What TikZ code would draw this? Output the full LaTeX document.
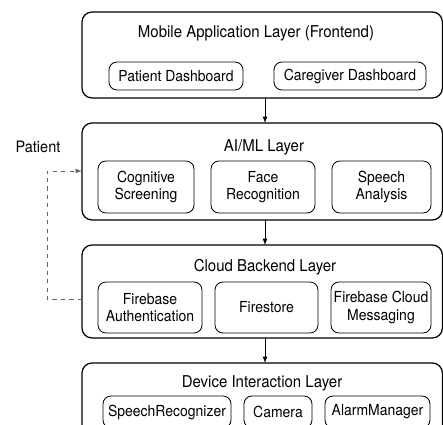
\documentclass[tikz,border=0pt]{standalone}
\usepackage{fontspec}
\setmainfont[FakeStretch=0.92]{TeX Gyre Heros}
\tikzset{
	layer/.style={draw, rounded corners=0.25cm, line width=0.9pt, inner sep=0pt, outer sep=0pt},
	part/.style={draw, rounded corners=0.2cm, line width=0.6pt, inner sep=0pt, outer sep=0pt, align=center, font=\fontsize{10.8}{12.2}\selectfont},
	title/.style={font=\fontsize{11.6}{13}\selectfont}
}
\begin{document}
\begin{tikzpicture}
						\useasboundingbox (0,0) rectangle (11.075,10.625);
						\path (6.555,9.25) node[layer, minimum width=9.01cm, minimum height=2.15cm] (mobile) {};
						\path (6.555,6.3375) node[layer, minimum width=9.01cm, minimum height=2.425cm] (aiml) {};
						\path (6.555,3.3375) node[layer, minimum width=9.01cm, minimum height=2.325cm] (cloud) {};
						\path (6.555,0.525) node[layer, minimum width=9.01cm, minimum height=2.05cm] (device) {};
						
						\path (6.4,9.8) node[title] (mobiletitle) {Mobile Application Layer (Frontend)};
						\path (6.6,6.95) node[title] (aimltitle) {AI/ML Layer};
						\path (6.625,3.95) node[title] (cloudtitle) {Cloud Backend Layer};
						\path (6.55,1.05) node[title] (devicetitle) {Device Interaction Layer};
						
						\path (4.4,8.725) node[part, minimum width=3.35cm, minimum height=0.7cm] (patientdash) {Patient Dashboard};
						\path (8.75,8.725) node[part, minimum width=3.8cm, minimum height=0.7cm] (caredash) {Caregiver Dashboard};
						
						\path (3.65,5.95) node[part, minimum width=2.4cm, minimum height=1.3cm] (cognitive) {Cognitive\\Screening};
						\path (6.575,5.95) node[part, minimum width=2.6cm, minimum height=1.3cm] (face) {Face\\Recognition};
						\path (9.5375,5.95) node[part, minimum width=2.475cm, minimum height=1.3cm] (speech) {Speech\\Analysis};
						
						\path (3.75,2.9375) node[part, minimum width=2.6cm, minimum height=1.275cm] (auth) {Firebase\\Authentication};
						\path (6.6625,2.9375) node[part, minimum width=2.575cm, minimum height=1.275cm] (firestore) {Firestore};
						\path (9.525,2.9375) node[part, minimum width=2.5cm, minimum height=1.275cm] (fcm) {Firebase Cloud\\Messaging};
						
						\path (4.175,0.325) node[part, minimum width=3.2cm, minimum height=0.8cm] (recognizer) {SpeechRecognizer};
						\path (6.95,0.325) node[part, minimum width=1.7cm, minimum height=0.8cm] (camera) {Camera};
						\path (9.4375,0.325) node[part, minimum width=2.625cm, minimum height=0.8cm] (alarm) {AlarmManager};
						
						\path (0.95,6.95) node[font=\fontsize{11.2}{13}\selectfont] (patient) {Patient};
						
						\coordinate (m) at (6.625,0);
						\draw[->, >=latex, line width=0.6pt] (mobile.south -| m) -- (aiml.north -| m);
						\draw[->, >=latex, line width=0.6pt] (aiml.south -| m) -- (cloud.north -| m);
						\draw[->, >=latex, line width=0.6pt] (cloud.south -| m) -- (device.north -| m);
						
						\coordinate (back) at (1.175,3.15);
						\coordinate (up) at (1.175,6.35);
						\draw[dashed, gray!80!black, line width=0.6pt, ->, >=latex] (cloud.west |- back) -- (back) -- (up) -- (aiml.west |- up);
					\end{tikzpicture}
\end{document}
